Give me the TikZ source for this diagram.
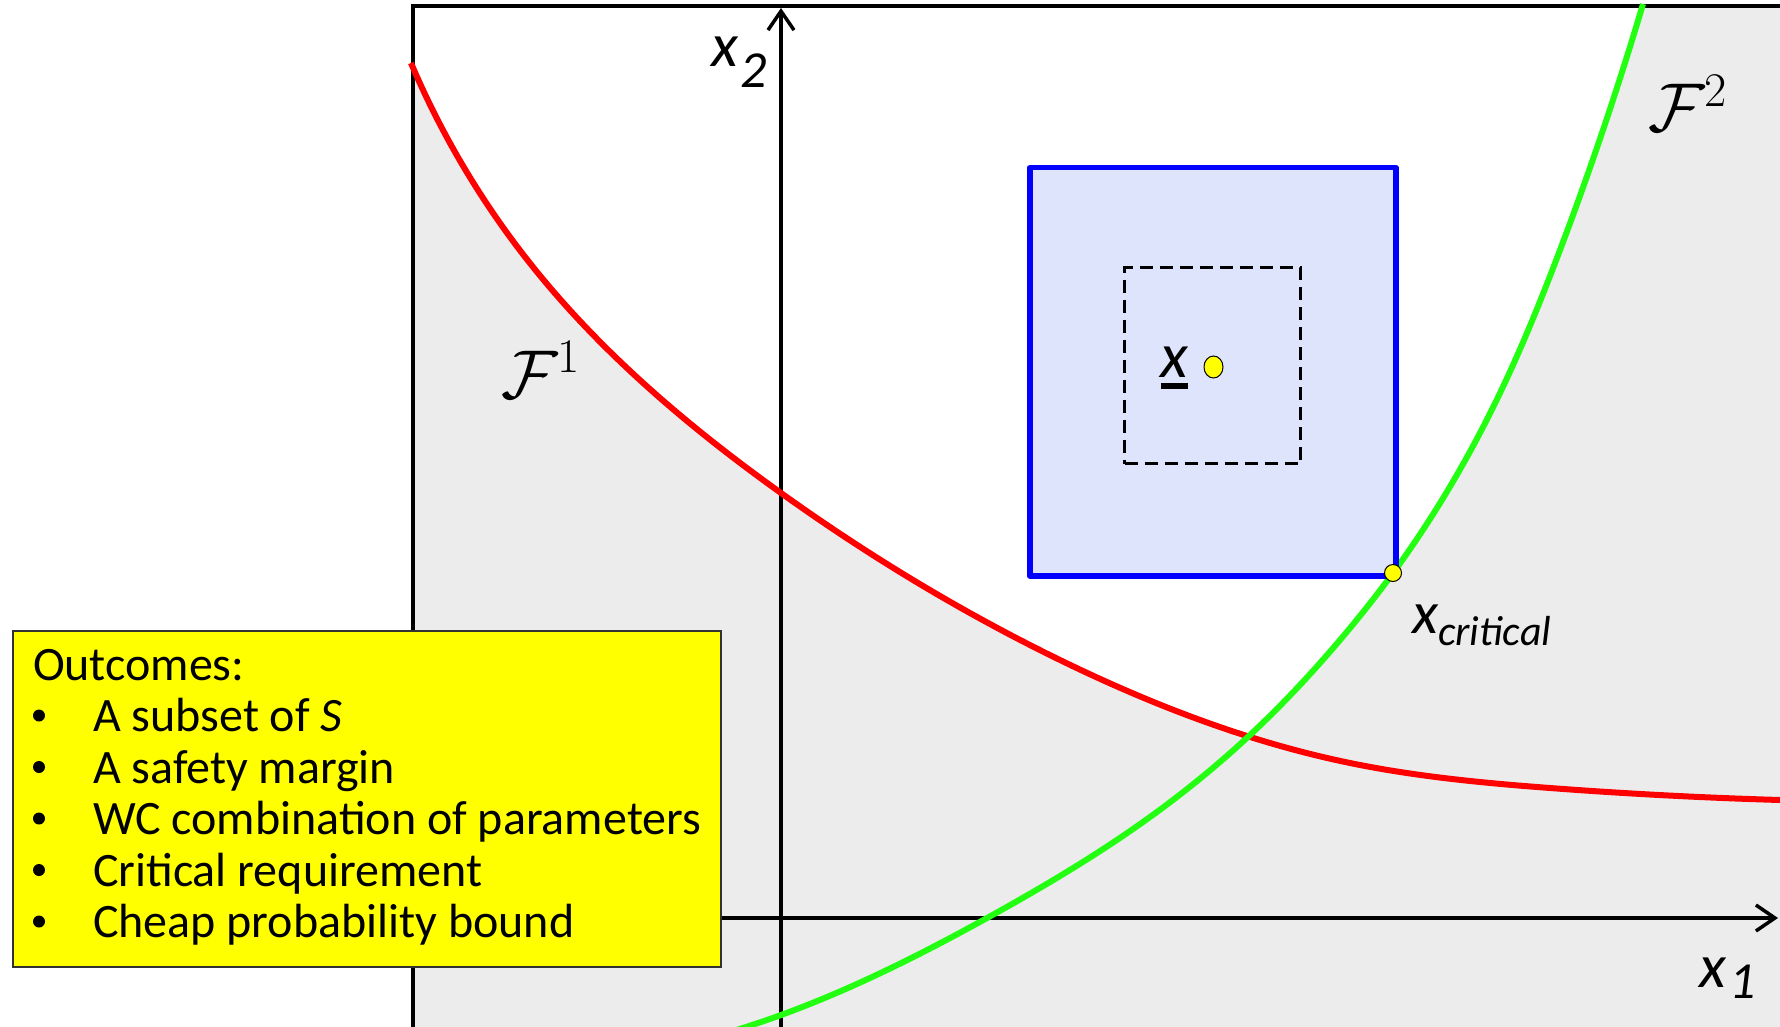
\RequirePackage{fix-cm}
\documentclass[tikz,border=0pt]{standalone}
\usepackage[no-math]{fontspec}
\setmainfont{Carlito}
\usetikzlibrary{arrows.meta,shapes.geometric,hobby}
\definecolor{bggray}{RGB}{236,236,236}
\definecolor{boxblue}{RGB}{221,228,252}
\definecolor{curvegreen}{RGB}{34,255,17}
\definecolor{boxyellow}{RGB}{255,255,0}
\tikzset{
  lbl/.style={anchor=base west, inner sep=0pt, outer sep=0pt},
  axisline/.style={line width=4pt, draw=black},
  curve/.style={line width=6pt},
  ydot/.style={draw=black, line width=1pt, fill=boxyellow},
  bullettext/.style={lbl, font=\fontsize{48}{51.5}\selectfont},
  bulletdot/.style={circle, fill=black, minimum size=12pt, inner sep=0pt},
  axistip/.style={-{Straight Barb[length=19pt,width=26pt,line width=3.5pt]}},
}
\begin{document}
\begin{tikzpicture}[x=1pt,y=-1pt]
\useasboundingbox (0,0) rectangle (1780,1027);
% gray region
\fill[bggray] (413,6) rectangle (1780,1027);
% white feasible region: above red and left of green
\begin{scope}
  \clip[use Hobby shortcut] (413,6) -- (413,67) .. (533,267) .. (781,493) .. (1060,660) .. (1350,763) .. (1550,788) .. (1780,800) -- (1780,6) -- cycle;
  \fill[white, use Hobby shortcut] (413,6) -- (413,1027) -- (730,1032) .. (781,1015) .. (987,918) .. (1050,882) .. (1150,817) .. (1250,735) .. (1340,640) .. (1393,573) .. (1500,393) .. (1560,250) .. (1643,4) -- (1643,6) -- cycle;
\end{scope}
% frame
\draw[axisline, line cap=rect] (413,1027) -- (413,6) -- (1780,6);
% axes
\coordinate (ybot) at (781,1027);
\coordinate (ytop) at (781,8);
\coordinate (xleft) at (413,918);
\coordinate (xright) at (1778,918);
\draw[axisline, axistip] (ybot) -- (ytop);
\draw[axisline, axistip] (xleft) -- (xright);
% curves
\begin{scope}
\clip (0,0) rectangle (1780,1027);
\draw[curve, red, use Hobby shortcut] (411,63) .. (533,267) .. (781,493) .. (1060,660) .. (1350,763) .. (1550,788) .. (1780,800);
\draw[curve, curvegreen, use Hobby shortcut] (730,1032) .. (781,1015) .. (987,918) .. (1050,882) .. (1150,817) .. (1250,735) .. (1340,640) .. (1393,573) .. (1500,393) .. (1560,250) .. (1643,4);
\end{scope}
% blue box
\node[draw=blue, fill=boxblue, line width=5.5pt, line join=round, minimum width=366pt, minimum height=408pt, inner sep=0pt, anchor=north west] (bluebox) at (1027,165) {};
\node[draw=black, line width=3pt, dash pattern=on 13pt off 7pt, minimum width=176pt, minimum height=196pt, inner sep=0pt, anchor=north west] (dashbox) at (1123,266) {};
% nominal point
\node[ydot, ellipse, minimum width=19pt, minimum height=22pt, inner sep=0pt] (xnom) at (1213.5,367) {};
\node[lbl, font=\fontsize{64}{64}\selectfont\itshape] (xlab) at (1160,377) {x};
\fill[black] (1161,383) rectangle (1188,389);
% critical point
\node[ydot, circle, minimum size=17pt, inner sep=0pt] (xcrit) at (1393,573) {};
\node[lbl, font=\fontsize{60}{60}\selectfont\itshape] (xcritx) at (1412,633) {x};
\node[lbl, font=\fontsize{42}{42}\selectfont\itshape] (xcritsub) at (1438,645) {critical};
% axis labels
\node[lbl, font=\fontsize{62}{62}\selectfont\itshape] (x2x) at (711,67) {x};
\node[lbl, font=\fontsize{52}{52}\selectfont\itshape] (x2s) at (740,88) {2};
\node[lbl, font=\fontsize{62}{62}\selectfont\itshape] (x1x) at (1699,987) {x};
\node[lbl, font=\fontsize{52}{52}\selectfont\itshape] (x1s) at (1729,998) {1};
% region labels
\node[lbl, font=\fontsize{69}{69}\selectfont] (F1) at (501,398) {$\mathcal{F}^1$};
\node[lbl, font=\fontsize{69}{69}\selectfont] (F2) at (1648,132) {$\mathcal{F}^2$};
% outcomes box
\node[draw={rgb,255:red,50;green,50;blue,50}, line width=1.5pt, fill=boxyellow, minimum width=708pt, minimum height=336pt, inner sep=0pt, anchor=north west] (obox) at (12,630) {};
\node[bullettext] (t0) at (33,680) {Outcomes:};
\node[bulletdot] (b1) at (39,715.5) {};
\node[bullettext] (t1) at (93,731.5) {A subset of \textit{S}};
\node[bulletdot] (b2) at (39,767) {};
\node[bullettext] (t2) at (93,783) {A safety margin};
\node[bulletdot] (b3) at (39,818.5) {};
\node[bullettext] (t3) at (93,834.5) {WC combination of parameters};
\node[bulletdot] (b4) at (39,870) {};
\node[bullettext] (t4) at (93,886) {Critical requirement};
\node[bulletdot] (b5) at (39,921.5) {};
\node[bullettext] (t5) at (93,937.5) {Cheap probability bound};
\end{tikzpicture}
\end{document}
